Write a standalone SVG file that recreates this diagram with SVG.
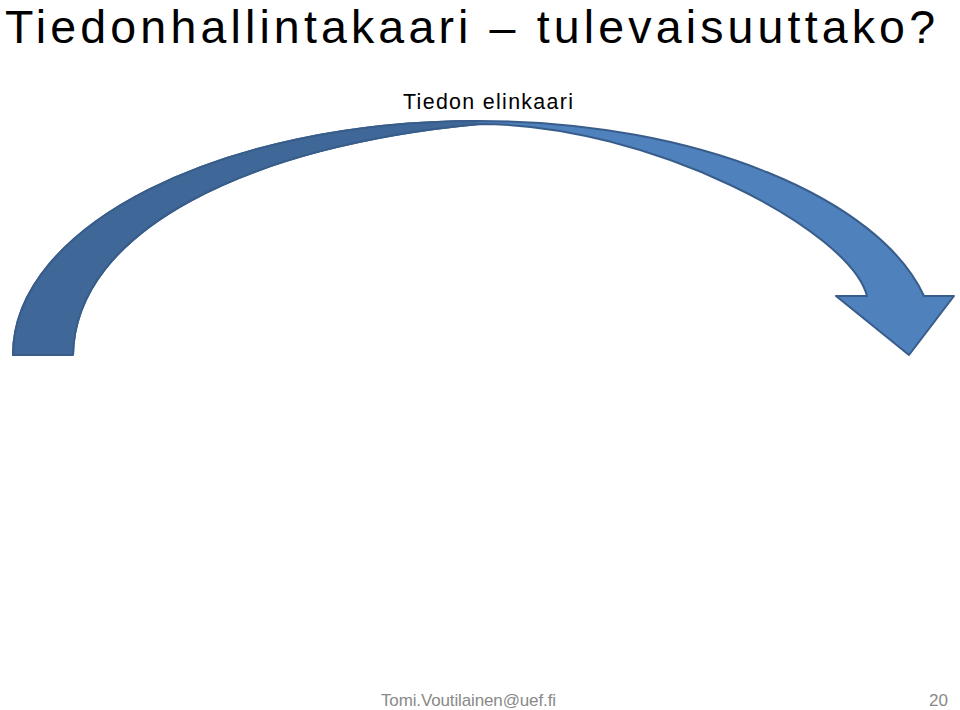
<svg xmlns="http://www.w3.org/2000/svg" width="960" height="710" viewBox="0 0 960 710">
<style>
.t{font-family:"Liberation Sans",Arial,sans-serif;fill:#000}
.f{font-family:"Liberation Sans",Arial,sans-serif;fill:#898989}
.edge{stroke:#385D8A;stroke-width:2;stroke-linejoin:round}
</style>
<rect width="960" height="710" fill="#fff"/>
<g id="title">
<text class="t" x="5" y="42.5" font-size="46.5" textLength="930" lengthAdjust="spacing">Tiedonhallintakaari – tulevaisuuttako?</text>
</g>
<g id="subtitle">
<text class="t" x="403" y="109" font-size="21.4" textLength="170" lengthAdjust="spacing">Tiedon elinkaari</text>
</g>
<g id="arrow">
<path class="edge" fill="#4F81BD" d="M13,355 C13,226 220,121 478,121 C700,121 880,200 924,296 L954,296 L909,355 L836,296 L867,296 C850,230 650,124 480,124 C250,145 75,230 73,355 Z"/>
<path fill="#3F6797" d="M14,354 C14,227 220,122 478,122 L478,123.5 C250,145 75,230 72,354 Z"/>
<path fill="none" class="edge" d="M73,355 L13,355 C13,226 220,121 478,121 M480,124 C250,145 75,230 73,355"/>
</g>
<g id="footer">
<text class="f" x="381" y="706" font-size="17" textLength="175" lengthAdjust="spacing">Tomi.Voutilainen@uef.fi</text>
<text class="f" x="948" y="706" font-size="17" text-anchor="end">20</text>
</g>
</svg>
